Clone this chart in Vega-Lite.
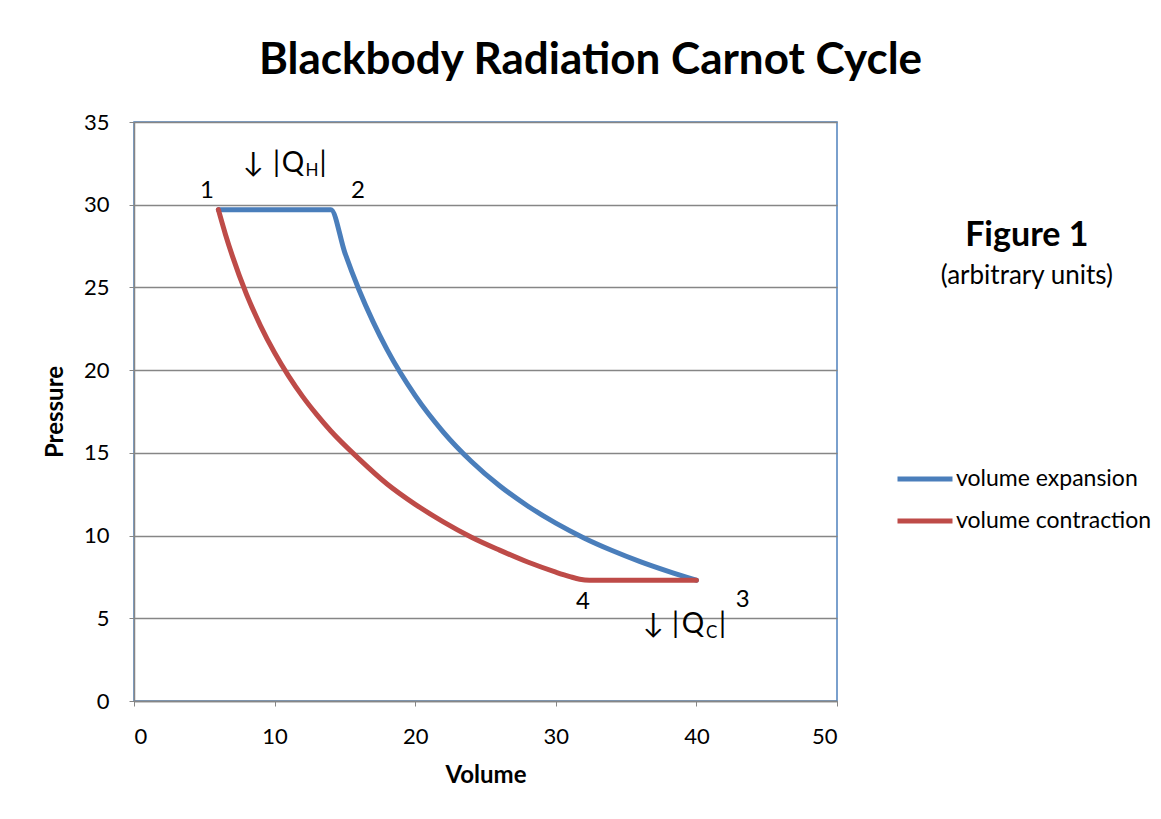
{
  "$schema": "https://vega.github.io/schema/vega-lite/v6.json",
  "width": 703,
  "height": 579,
  "autosize": {"type": "none"},
  "padding": {"left": 134, "top": 122, "right": 324, "bottom": 118},
  "background": "white",
  "title": {
    "text": "Blackbody Radiation Carnot Cycle",
    "font": "Lato",
    "fontSize": 44,
    "fontWeight": "bold",
    "color": "#000000",
    "anchor": "middle",
    "dx": 105,
    "dy": 51,
    "baseline": "alphabetic",
    "offset": 44
  },
  "datasets": {
    "curves": [
      {"series": "volume expansion", "V": 6, "P": 29.7},
      {"series": "volume expansion", "V": 10, "P": 29.7},
      {"series": "volume expansion", "V": 14, "P": 29.7},
      {"series": "volume expansion", "V": 15, "P": 27.09},
      {"series": "volume expansion", "V": 16, "P": 24.86},
      {"series": "volume expansion", "V": 17, "P": 22.93},
      {"series": "volume expansion", "V": 18, "P": 21.24},
      {"series": "volume expansion", "V": 20, "P": 18.46},
      {"series": "volume expansion", "V": 22, "P": 16.26},
      {"series": "volume expansion", "V": 24, "P": 14.48},
      {"series": "volume expansion", "V": 26, "P": 13.01},
      {"series": "volume expansion", "V": 28, "P": 11.79},
      {"series": "volume expansion", "V": 30, "P": 10.75},
      {"series": "volume expansion", "V": 32, "P": 9.86},
      {"series": "volume expansion", "V": 34, "P": 9.1},
      {"series": "volume expansion", "V": 36, "P": 8.43},
      {"series": "volume expansion", "V": 38, "P": 7.84},
      {"series": "volume expansion", "V": 40, "P": 7.3},
      {"series": "volume contraction", "V": 6, "P": 29.7},
      {"series": "volume contraction", "V": 6.5, "P": 28.22},
      {"series": "volume contraction", "V": 7, "P": 26.89},
      {"series": "volume contraction", "V": 8, "P": 24.59},
      {"series": "volume contraction", "V": 9, "P": 22.68},
      {"series": "volume contraction", "V": 10, "P": 21.05},
      {"series": "volume contraction", "V": 11, "P": 19.64},
      {"series": "volume contraction", "V": 12, "P": 18.4},
      {"series": "volume contraction", "V": 13, "P": 17.31},
      {"series": "volume contraction", "V": 14, "P": 16.32},
      {"series": "volume contraction", "V": 16, "P": 14.64},
      {"series": "volume contraction", "V": 18, "P": 13.12},
      {"series": "volume contraction", "V": 20, "P": 11.89},
      {"series": "volume contraction", "V": 22, "P": 10.83},
      {"series": "volume contraction", "V": 24, "P": 9.9},
      {"series": "volume contraction", "V": 26, "P": 9.12},
      {"series": "volume contraction", "V": 28, "P": 8.4},
      {"series": "volume contraction", "V": 30, "P": 7.79},
      {"series": "volume contraction", "V": 31, "P": 7.52},
      {"series": "volume contraction", "V": 31.7, "P": 7.36},
      {"series": "volume contraction", "V": 32.4, "P": 7.3},
      {"series": "volume contraction", "V": 33, "P": 7.3},
      {"series": "volume contraction", "V": 36, "P": 7.3},
      {"series": "volume contraction", "V": 40, "P": 7.3}
    ],
    "points": [
      {"label": "1", "V": 5.19, "P": 30.4},
      {"label": "2", "V": 15.93, "P": 30.4},
      {"label": "4", "V": 31.93, "P": 5.57},
      {"label": "3", "V": 43.3, "P": 5.69}
    ],
    "heat": [
      {"label": "↓", "V": 7.75, "P": 31.98},
      {"label": "|", "V": 9.89, "P": 31.98},
      {"label": "Q", "V": 10.5, "P": 31.98},
      {"label": "|", "V": 13.2, "P": 31.98},
      {"label": "↓", "V": 36.2, "P": 4.12},
      {"label": "|", "V": 38.27, "P": 4.12},
      {"label": "Q", "V": 38.95, "P": 4.12},
      {"label": "|", "V": 41.6, "P": 4.12}
    ],
    "subs": [
      {"label": "H", "V": 12.2, "P": 31.74},
      {"label": "C", "V": 40.68, "P": 3.82}
    ],
    "fig": [
      {"label": "Figure 1", "V": 63.5, "P": 27.5}
    ],
    "units": [
      {"label": "(arbitrary units)", "V": 63.5, "P": 25.2}
    ]
  },
  "layer": [
    {
      "data": {"name": "curves"},
      "transform": [{"filter": "datum.series === 'volume expansion'"}],
      "mark": {"type": "line", "strokeWidth": 5, "strokeCap": "round", "strokeJoin": "round", "interpolate": "monotone"},
      "encoding": {
        "x": {"field": "V", "type": "quantitative", "scale": {"domain": [0, 50], "nice": false},
          "axis": {"title": "Volume", "values": [0, 10, 20, 30, 40, 50], "grid": false}},
        "y": {"field": "P", "type": "quantitative", "scale": {"domain": [0, 35], "nice": false},
          "axis": {"title": "Pressure", "values": [0, 5, 10, 15, 20, 25, 30, 35], "grid": true}},
        "color": {"field": "series", "type": "nominal",
          "scale": {"domain": ["volume expansion", "volume contraction"], "range": ["#4A7EBB", "#BE4B48"]},
          "legend": {"title": null}},
        "order": {"field": "V", "type": "quantitative"}
      }
    },
    {
      "data": {"name": "curves"},
      "transform": [{"filter": "datum.series === 'volume contraction'"}],
      "mark": {"type": "line", "strokeWidth": 5, "strokeCap": "round", "strokeJoin": "round", "interpolate": "monotone"},
      "encoding": {
        "x": {"field": "V", "type": "quantitative"},
        "y": {"field": "P", "type": "quantitative"},
        "color": {"field": "series", "type": "nominal"},
        "order": {"field": "V", "type": "quantitative"}
      }
    },
    {
      "data": {"name": "points"},
      "mark": {"type": "text", "font": "Lato", "fontSize": 24, "align": "center", "baseline": "alphabetic", "color": "#000000", "clip": false},
      "encoding": {
        "x": {"field": "V", "type": "quantitative"},
        "y": {"field": "P", "type": "quantitative"},
        "text": {"field": "label"}
      }
    },
    {
      "data": {"name": "heat"},
      "mark": {"type": "text", "font": "Lato", "fontSize": 28, "align": "left", "baseline": "alphabetic", "color": "#000000", "clip": false},
      "encoding": {
        "x": {"field": "V", "type": "quantitative"},
        "y": {"field": "P", "type": "quantitative"},
        "text": {"field": "label"}
      }
    },
    {
      "data": {"name": "subs"},
      "mark": {"type": "text", "font": "Lato", "fontSize": 17, "align": "left", "baseline": "alphabetic", "color": "#000000", "clip": false},
      "encoding": {
        "x": {"field": "V", "type": "quantitative"},
        "y": {"field": "P", "type": "quantitative"},
        "text": {"field": "label"}
      }
    },
    {
      "data": {"name": "fig"},
      "mark": {"type": "text", "font": "Lato", "fontSize": 34, "fontWeight": "bold", "align": "center", "baseline": "alphabetic", "color": "#000000", "clip": false},
      "encoding": {
        "x": {"field": "V", "type": "quantitative"},
        "y": {"field": "P", "type": "quantitative"},
        "text": {"field": "label"}
      }
    },
    {
      "data": {"name": "units"},
      "mark": {"type": "text", "font": "Lato", "fontSize": 26, "align": "center", "baseline": "alphabetic", "color": "#000000", "clip": false},
      "encoding": {
        "x": {"field": "V", "type": "quantitative"},
        "y": {"field": "P", "type": "quantitative"},
        "text": {"field": "label"}
      }
    }
  ],
  "config": {
    "view": {"stroke": "#4F81BD", "strokeWidth": 1.5},
    "axis": {
      "labelFont": "Lato",
      "labelFontSize": 22,
      "labelColor": "#000000",
      "titleFont": "Lato",
      "titleFontSize": 24,
      "titleFontWeight": "bold",
      "titleColor": "#000000",
      "domainColor": "#868686",
      "domainWidth": 1.5,
      "tickColor": "#868686",
      "tickSize": 5,
      "gridColor": "#868686",
      "gridWidth": 1.5,
      "gridOpacity": 1
    },
    "axisX": {"labelPadding": 20, "titlePadding": 16},
    "axisY": {"labelPadding": 20, "titlePadding": 16},
    "legend": {
      "orient": "none",
      "legendX": 761,
      "legendY": 327,
      "labelFont": "Lato",
      "labelFontSize": 23,
      "labelColor": "#000000",
      "labelLimit": 400,
      "symbolType": "stroke",
      "symbolSize": 3025,
      "symbolStrokeWidth": 5,
      "labelOffset": 1,
      "rowPadding": -7
    }
  }
}
